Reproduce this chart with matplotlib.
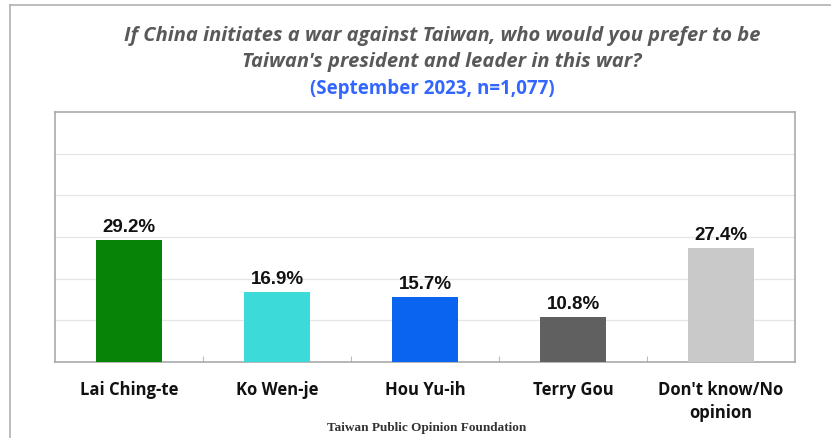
import numpy as np
import matplotlib.pyplot as plt
from matplotlib.lines import Line2D

categories = ["Lai Ching-te", "Ko Wen-je", "Hou Yu-ih", "Terry Gou", "Don't know/No\nopinion"]
values = [29.2, 16.9, 15.7, 10.8, 27.4]
colors = ["#078407", "#3DDADA", "#0A64F0", "#606060", "#C9C9C9"]

W, H = 831, 439
fig = plt.figure(figsize=(W / 100, H / 100), dpi=100)

# plot area in pixel coords: left 55, right 795, top 113, bottom 363
ax = fig.add_axes([55 / W, 1 - 363 / H, 740 / W, 250 / H])
x = np.arange(len(categories))
ax.bar(x, values, width=0.44, color=colors, zorder=3)
ax.set_xlim(-0.5, len(categories) - 0.5)
ax.set_ylim(0, 60)
ax.set_yticks(np.arange(10, 60, 10))
ax.yaxis.grid(True, color="#E6E6E6", linewidth=0.9, zorder=0)
ax.tick_params(axis="y", left=False, labelleft=False)
ax.set_xticks(np.arange(0.5, len(categories) - 1, 1.0))
ax.tick_params(axis="x", direction="in", length=4, color="#BBBBBB", labelbottom=False)
for s in ax.spines.values():
    s.set_color("#AAAAAA")
    s.set_linewidth(1.2)

for xi, v in zip(x, values):
    ax.text(xi, v + 1.2, f"{v:.1f}%", ha="center", va="bottom",
            fontsize=13.5, fontweight="bold", family="Liberation Sans", color="#111111")

for xi, c in zip(x, categories):
    ax.text(xi, -4.4, c, ha="center", va="top", fontsize=12, fontweight="bold",
            family="Open Sans", color="#111111", linespacing=1.35)

# titles
title_kw = dict(ha="center", va="center", fontsize=14.5, style="italic",
                fontweight="bold", family="Open Sans", color="#595959")
fig.text(442 / W, 1 - 36 / H,
         "If China initiates a war against Taiwan, who would you prefer to be", **title_kw)
fig.text(442 / W, 1 - 62 / H, "Taiwan's president and leader in this war?", **title_kw)
fig.text(432 / W, 1 - 89 / H, "(September 2023, n=1,077)",
         ha="center", va="center", fontsize=13.5, fontweight="bold",
         family="Open Sans", color="#3366FF")

fig.text(427 / W, 1 - 428 / H, "Taiwan Public Opinion Foundation", ha="center", va="center",
         fontsize=9.5, fontweight="bold", family="Liberation Serif", color="#333333")

# outer frame (top and left edges)
fig.add_artist(Line2D([10 / W, 1], [1 - 6 / H, 1 - 6 / H], color="#B0B0B0", linewidth=1.2))
fig.add_artist(Line2D([10 / W, 10 / W], [0, 1 - 6 / H], color="#B0B0B0", linewidth=1.2))

fig.savefig("out.png", dpi=100)
